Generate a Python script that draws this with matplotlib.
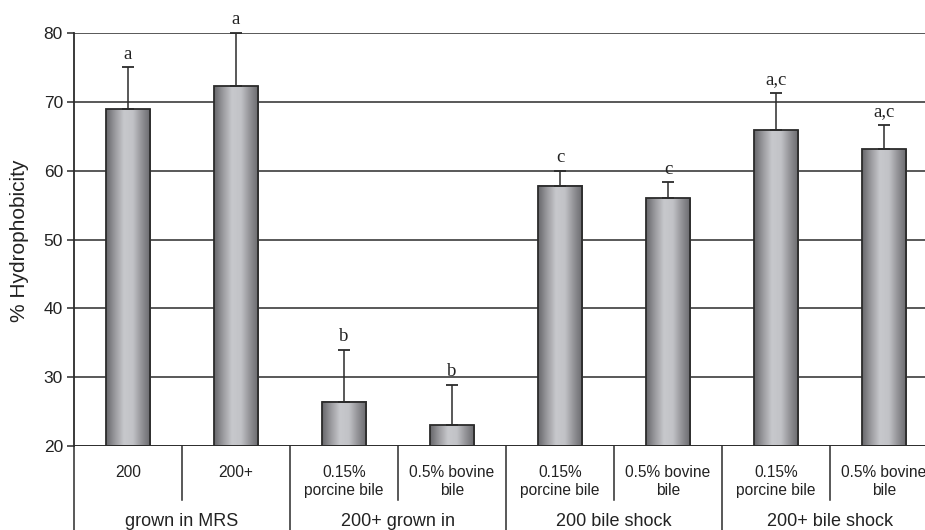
import numpy as np
import matplotlib
matplotlib.use("Agg")
import matplotlib.pyplot as plt
from matplotlib.colors import LinearSegmentedColormap
from matplotlib.transforms import blended_transform_factory

# Hydrophobicity of strains 200 / 200+ under different bile conditions
sub_labels = ["200", "200+",
              "0.15%\nporcine bile", "0.5% bovine\nbile",
              "0.15%\nporcine bile", "0.5% bovine\nbile",
              "0.15%\nporcine bile", "0.5% bovine\nbile"]
group_labels = ["grown in MRS", "200+ grown in", "200 bile shock", "200+ bile shock"]
means = [68.9, 72.3, 26.4, 23.0, 57.8, 56.0, 65.9, 63.1]
sd_upper = [6.1, 7.7, 7.5, 5.9, 2.2, 2.3, 5.4, 3.6]
letters = ["a", "a", "b", "b", "c", "c", "a,c", "a,c"]
y_ticks = [20, 30, 40, 50, 60, 70, 80]

W, H = 925, 530
fig = plt.figure(figsize=(W / 100, H / 100), dpi=100)
ax_left, ax_right, ax_top, ax_bot = 74, 938, 33, 446
ax = fig.add_axes([ax_left / W, 1 - ax_bot / H,
                   (ax_right - ax_left) / W, (ax_bot - ax_top) / H])

sans = "Liberation Sans"
serif = "Liberation Serif"
line_col = "#2b2b2b"
text_col = "#222222"

n = len(means)
x = np.arange(n) + 0.5
bar_w = 0.41

# cylinder-like shading for each bar
shade = LinearSegmentedColormap.from_list(
    "cyl", ["#66666a", "#9a9a9e", "#c7c8cc", "#c2c3c7", "#929296", "#67676b"])
grad = np.linspace(0, 1, 256).reshape(1, -1)

for xi, m in zip(x, means):
    ax.imshow(grad, extent=[xi - bar_w / 2, xi + bar_w / 2, 20, m],
              aspect="auto", cmap=shade, zorder=2, interpolation="bicubic")
ax.bar(x, np.array(means) - 20, bottom=20, width=bar_w, facecolor="none",
       edgecolor=line_col, linewidth=1.3, zorder=3)

ax.errorbar(x, means, yerr=[np.zeros(n), sd_upper], fmt="none",
            ecolor=line_col, elinewidth=1.1, capsize=4, capthick=1.3, zorder=4,
            clip_on=False)

for xi, m, s, lab in zip(x, means, sd_upper, letters):
    ax.annotate(lab, (xi, m + s), xytext=(0, 3.5), textcoords="offset points",
                ha="center", va="bottom", fontsize=13.5, family=serif,
                color=text_col, annotation_clip=False)

ax.set_xlim(0, n)
ax.set_ylim(20, 80)
ax.set_yticks(y_ticks)
ax.set_yticklabels([str(t) for t in y_ticks], fontsize=12.5, family=sans,
                   color=text_col)
ax.tick_params(axis="y", direction="out", length=5, width=1.1, color=line_col,
               pad=3)
ax.set_xticks([])
for t in y_ticks[1:]:
    ax.axhline(t, color=line_col, lw=1.1, zorder=1)
ax.axhline(20, color=line_col, lw=1.4, zorder=5)
for side in ["top", "right", "bottom"]:
    ax.spines[side].set_visible(False)
ax.spines["left"].set_color(line_col)
ax.spines["left"].set_linewidth(1.3)

fig.text(20 / W, 1 - 241 / H, "% Hydrophobicity", rotation=90, ha="center",
         va="center", fontsize=15, family=sans, color=text_col)

# category table below the axis
tr = blended_transform_factory(ax.transData, fig.transFigure)
y_axis = 1 - ax_bot / H
y_inner = 1 - 500 / H
for i in range(n + 1):
    if i % 2 == 0:
        ax.plot([i, i], [y_axis, 0], transform=tr, color=line_col, lw=1.1,
                clip_on=False)
    else:
        ax.plot([i, i], [y_axis, y_inner], transform=tr, color=line_col,
                lw=1.1, clip_on=False)

for xi, lab in zip(x, sub_labels):
    ax.text(xi, 1 - 465 / H, lab, transform=tr, ha="center", va="top",
            fontsize=11.2, family=sans, color=text_col, linespacing=1.25)
for g, lab in enumerate(group_labels):
    ax.text(2 * g + 1, 1 - 521 / H, lab, transform=tr, ha="center",
            va="center", fontsize=13, family=sans, color=text_col)

fig.savefig("out.png", dpi=100)
